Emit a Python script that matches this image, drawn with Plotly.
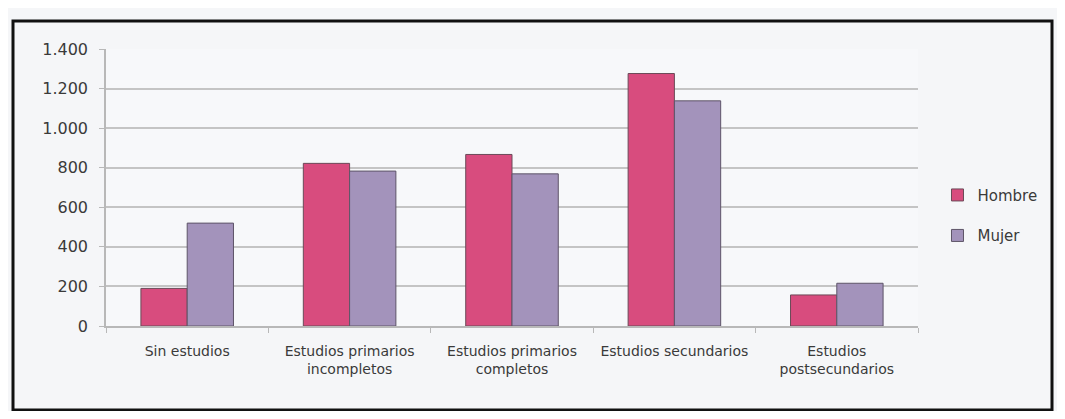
import plotly.graph_objects as go

categories = ["Sin estudios", "Estudios primarios<br>incompletos", "Estudios primarios<br>completos",
              "Estudios secundarios", "Estudios<br>postsecundarios"]
hombre = [190, 822, 867, 1276, 157]
mujer = [520, 783, 769, 1138, 216]
y_ticks = [0, 200, 400, 600, 800, 1000, 1200, 1400]
y_tick_labels = ["0", "200", "400", "600", "800", "1.000", "1.200", "1.400"]

fig = go.Figure()
fig.add_trace(go.Bar(x=categories, y=hombre, name="Hombre", legendgroup="h",
                     marker=dict(color="#d84c7e", line=dict(color="#6b4a58", width=1))))
fig.add_trace(go.Bar(x=categories, y=mujer, name="Mujer", legendgroup="m",
                     marker=dict(color="#a393bb", line=dict(color="#5e5468", width=1))))

# page body has an 8px margin, so the figure is sized to fit inside the window
W, H = 1049, 403
L, R, T, B = 98, 139, 41, 85
pw, ph = W - L - R, H - T - B

fig.update_layout(
    width=W, height=H,
    margin=dict(l=L, r=R, t=T, b=B),
    paper_bgcolor="#f5f6f8", plot_bgcolor="#f7f8fa",
    barmode="group", bargap=0.43, bargroupgap=0,
    font=dict(family="DejaVu Sans", size=14, color="#3a3a3a"),
    showlegend=True,
    legend=dict(x=1.024, y=0.40, xanchor="left", yanchor="middle",
                traceorder="grouped", tracegroupgap=18,
                font=dict(size=15, color="#3a3a3a"), bgcolor="rgba(0,0,0,0)",
                itemwidth=30),
    xaxis=dict(showgrid=False, showline=True, linecolor="#b8b8b8", linewidth=1.5,
               ticks="outside", tickson="boundaries", ticklen=5, tickcolor="#b8b8b8",
               ticklabelstandoff=11, tickfont=dict(size=14)),
    yaxis=dict(range=[0, 1400], tickvals=y_ticks, ticktext=y_tick_labels,
               showgrid=True, gridcolor="#c4c4c4", gridwidth=1.5,
               showline=True, linecolor="#b8b8b8", linewidth=1.5,
               ticks="outside", ticklen=5, tickcolor="#b8b8b8",
               ticklabelstandoff=8, tickfont=dict(size=16), zeroline=False),
)

# outer frame (page coords minus the 8px body offset)
fig.add_shape(type="rect", xref="paper", yref="paper",
              x0=(5 - L) / pw, x1=(1044 - L) / pw,
              y0=(T + ph - 402) / ph, y1=(T + ph - 13) / ph,
              line=dict(color="#111111", width=3), fillcolor="rgba(0,0,0,0)", layer="below")

fig.write_html("out.html")
